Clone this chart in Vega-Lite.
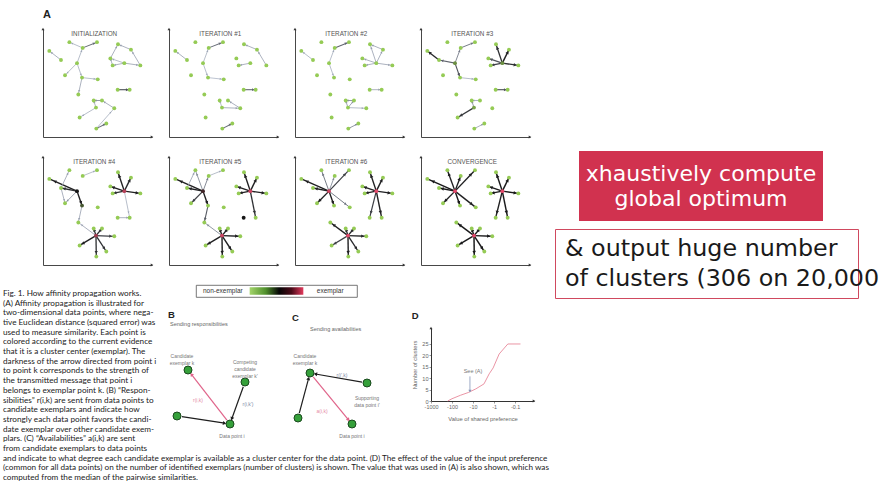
{
  "$schema": "https://vega.github.io/schema/vega-lite/v6.json",
  "background": "#ffffff",
  "padding": {"left": 0, "top": 8, "right": 0, "bottom": 0},
  "config": {"view": {"stroke": null}, "font": "Liberation Sans"},
  "datasets": {
    "pts": [
      {"id": 1, "x": 5.8, "y": 79.7, "P0": 0, "P1": 0, "P2": 0, "P3": 0, "P4": 0, "P5": 0, "P6": 0, "P7": 0},
      {"id": 2, "x": 16.5, "y": 71.3, "P0": 0, "P1": 0, "P2": 0, "P3": 0, "P4": 0, "P5": 0, "P6": 0, "P7": 0},
      {"id": 3, "x": 24.2, "y": 87.8, "P0": 0, "P1": 0, "P2": 0, "P3": 0, "P4": 0, "P5": 0, "P6": 0, "P7": 0},
      {"id": 4, "x": 36.4, "y": 82.5, "P0": 0, "P1": 0, "P2": 0, "P3": 0, "P4": 0, "P5": 0, "P6": 0, "P7": 0},
      {"id": 5, "x": 49.5, "y": 87.8, "P0": 0, "P1": 0, "P2": 0, "P3": 0, "P4": 0, "P5": 0, "P6": 0, "P7": 0},
      {"id": 6, "x": 31.2, "y": 68.4, "P0": 0, "P1": 0, "P2": 0, "P3": 0.15, "P4": 0.5, "P5": 0.62, "P6": 0.95, "P7": 1},
      {"id": 7, "x": 20.2, "y": 57.2, "P0": 0, "P1": 0, "P2": 0, "P3": 0, "P4": 0, "P5": 0, "P6": 0, "P7": 0},
      {"id": 8, "x": 35.8, "y": 55.0, "P0": 0, "P1": 0, "P2": 0, "P3": 0, "P4": 0.3, "P5": 0, "P6": 0, "P7": 0},
      {"id": 9, "x": 50.2, "y": 53.4, "P0": 0, "P1": 0, "P2": 0, "P3": 0, "P4": 0, "P5": 0, "P6": 0, "P7": 0},
      {"id": 10, "x": 32.4, "y": 39.4, "P0": 0, "P1": 0, "P2": 0, "P3": 0, "P4": 0, "P5": 0, "P6": 0, "P7": 0},
      {"id": 11, "x": 46.5, "y": 33.8, "P0": 0, "P1": 0, "P2": 0, "P3": 0, "P4": 0, "P5": 0, "P6": 0, "P7": 0},
      {"id": 12, "x": 54.1, "y": 33.8, "P0": 0, "P1": 0, "P2": 0, "P3": 0, "P4": 0, "P5": 0, "P6": 0, "P7": 0},
      {"id": 13, "x": 48.6, "y": 27.2, "P0": 0, "P1": 0, "P2": 0, "P3": 0.1, "P4": 0.85, "P5": 0.95, "P6": 1, "P7": 1},
      {"id": 14, "x": 65.4, "y": 26.6, "P0": 0, "P1": 0, "P2": 0, "P3": 0, "P4": 0, "P5": 0, "P6": 0, "P7": 0},
      {"id": 15, "x": 33.6, "y": 18.1, "P0": 0, "P1": 0, "P2": 0, "P3": 0, "P4": 0, "P5": 0, "P6": 0, "P7": 0},
      {"id": 16, "x": 48.9, "y": 7.8, "P0": 0, "P1": 0, "P2": 0, "P3": 0, "P4": 0, "P5": 0, "P6": 0, "P7": 0},
      {"id": 17, "x": 68.8, "y": 85.9, "P0": 0, "P1": 0, "P2": 0, "P3": 0, "P4": 0, "P5": 0, "P6": 0, "P7": 0},
      {"id": 18, "x": 80.7, "y": 80.9, "P0": 0, "P1": 0, "P2": 0, "P3": 0, "P4": 0, "P5": 0, "P6": 0, "P7": 0},
      {"id": 19, "x": 61.8, "y": 72.8, "P0": 0, "P1": 0, "P2": 0, "P3": 0, "P4": 0, "P5": 0, "P6": 0, "P7": 0},
      {"id": 20, "x": 63.9, "y": 66.3, "P0": 0, "P1": 0, "P2": 0, "P3": 0, "P4": 0, "P5": 0, "P6": 0, "P7": 0},
      {"id": 21, "x": 74.6, "y": 68.4, "P0": 0, "P1": 0, "P2": 0, "P3": 0.15, "P4": 0.9, "P5": 0.95, "P6": 1, "P7": 1},
      {"id": 22, "x": 89.3, "y": 66.3, "P0": 0, "P1": 0, "P2": 0, "P3": 0, "P4": 0, "P5": 0, "P6": 0, "P7": 0},
      {"id": 23, "x": 68.5, "y": 43.8, "P0": 0, "P1": 0, "P2": 0, "P3": 0, "P4": 0, "P5": 0.5, "P6": 0, "P7": 0},
      {"id": 24, "x": 79.5, "y": 43.8, "P0": 0, "P1": 0, "P2": 0, "P3": 0, "P4": 0, "P5": 0, "P6": 0, "P7": 0},
      {"id": 25, "x": 58.1, "y": 12.5, "P0": 0, "P1": 0, "P2": 0, "P3": 0, "P4": 0, "P5": 0, "P6": 0, "P7": 0}
    ],
    "edges": [
      {"i": 1, "k": 2, "P0": 0.2, "P1": 0.2, "P2": 0.15, "P3": 0.85},
      {"i": 3, "k": 4, "P0": 0.15},
      {"i": 5, "k": 4, "P0": 0.45, "P1": 0.45, "P2": 0.5, "P3": 0.4, "P4": 0.15, "P5": 0.15},
      {"i": 4, "k": 6, "P0": 0.15, "P1": 0.15, "P2": 0.15, "P3": 0.35, "P5": 0.35, "P6": 0.3, "P7": 0.9},
      {"i": 7, "k": 6, "P0": 0.15, "P4": 0.25, "P5": 0.7, "P6": 0.9, "P7": 0.9},
      {"i": 8, "k": 6, "P0": 0.15, "P1": 0.15, "P2": 0.15, "P3": 0.6, "P4": 0.9, "P5": 0.9, "P6": 0.9, "P7": 0.95},
      {"i": 9, "k": 8, "P0": 0.15, "P1": 0.12, "P3": 0.15},
      {"i": 10, "k": 8, "P0": 0.2, "P4": 0.2, "P5": 0.55},
      {"i": 11, "k": 12, "P0": 0.3, "P2": 0.3, "P3": 0.2},
      {"i": 11, "k": 13, "P0": 0.2, "P1": 0.15, "P2": 0.25, "P3": 0.3, "P4": 0.8, "P5": 0.9, "P6": 0.85, "P7": 0.95},
      {"i": 12, "k": 14, "P0": 0.2, "P1": 0.2},
      {"i": 14, "k": 16, "P0": 0.15},
      {"i": 25, "k": 16, "P0": 0.45, "P1": 0.45, "P2": 0.3, "P3": 0.2},
      {"i": 15, "k": 13, "P0": 0.15, "P3": 0.75, "P4": 0.9, "P5": 0.9, "P6": 0.7, "P7": 0.95},
      {"i": 17, "k": 18, "P0": 0.2, "P1": 0.2, "P2": 0.2},
      {"i": 18, "k": 22, "P0": 0.2, "P1": 0.2},
      {"i": 17, "k": 19, "P0": 0.2},
      {"i": 19, "k": 20, "P0": 0.2},
      {"i": 20, "k": 21, "P0": 0.2, "P1": 0.2, "P2": 0.2, "P3": 0.7, "P4": 0.8, "P5": 0.9, "P6": 0.9, "P7": 0.95},
      {"i": 22, "k": 21, "P0": 0.2, "P2": 0.2, "P3": 0.8, "P4": 0.9, "P5": 0.9, "P6": 0.9, "P7": 0.95},
      {"i": 19, "k": 21, "P0": 0.15, "P2": 0.2, "P3": 0.6, "P4": 0.9, "P5": 0.9, "P6": 0.9, "P7": 0.95},
      {"i": 17, "k": 21, "P2": 0.2, "P3": 0.8, "P4": 0.9, "P5": 0.9, "P6": 0.9, "P7": 0.95},
      {"i": 18, "k": 21, "P2": 0.2, "P3": 0.9, "P4": 0.85, "P5": 0.9, "P6": 0.9, "P7": 0.95},
      {"i": 24, "k": 23, "P0": 0.6, "P1": 0.5, "P2": 0.2, "P3": 0.6, "P4": 0.2},
      {"i": 12, "k": 13, "P2": 0.25, "P4": 0.8, "P5": 0.9, "P6": 0.85, "P7": 0.95},
      {"i": 14, "k": 13, "P1": 0.2, "P2": 0.15, "P4": 0.7, "P5": 0.9, "P6": 0.85, "P7": 0.95},
      {"i": 1, "k": 6, "P4": 0.9, "P5": 0.9, "P6": 0.9, "P7": 0.95},
      {"i": 2, "k": 6, "P3": 0.5, "P4": 0.8, "P5": 0.9, "P6": 0.9, "P7": 0.95},
      {"i": 3, "k": 6, "P5": 0.3, "P6": 0.4, "P7": 0.9},
      {"i": 3, "k": 2, "P4": 0.2, "P5": 0.2},
      {"i": 7, "k": 2, "P4": 0.2},
      {"i": 5, "k": 6, "P6": 0.7, "P7": 0.9},
      {"i": 9, "k": 6, "P6": 0.4, "P7": 0.9},
      {"i": 23, "k": 21, "P6": 0.7, "P7": 0.9},
      {"i": 24, "k": 21, "P4": 0.15, "P5": 0.8, "P6": 0.9, "P7": 0.95},
      {"i": 10, "k": 13, "P4": 0.2, "P5": 0.3, "P6": 0.9, "P7": 0.95},
      {"i": 16, "k": 13, "P4": 0.8, "P5": 0.9, "P6": 0.9, "P7": 0.95},
      {"i": 25, "k": 13, "P4": 0.8, "P5": 0.9, "P6": 0.85, "P7": 0.95}
    ],
    "titles": [
      {"P0": "INITIALIZATION", "P1": "ITERATION #1", "P2": "ITERATION #2", "P3": "ITERATION #3", "P4": "ITERATION #4", "P5": "ITERATION #5", "P6": "ITERATION #6", "P7": "CONVERGENCE"}
    ],
    "caption": [
      {"n": 1, "t": "Fig. 1. How affinity propagation works."},
      {"n": 2, "t": "(A) Affinity propagation is illustrated for"},
      {"n": 3, "t": "two-dimensional data points, where nega-"},
      {"n": 4, "t": "tive Euclidean distance (squared error) was"},
      {"n": 5, "t": "used to measure similarity. Each point is"},
      {"n": 6, "t": "colored according to the current evidence"},
      {"n": 7, "t": "that it is a cluster center (exemplar). The"},
      {"n": 8, "t": "darkness of the arrow directed from point i"},
      {"n": 9, "t": "to point k corresponds to the strength of"},
      {"n": 10, "t": "the transmitted message that point i"},
      {"n": 11, "t": "belongs to exemplar point k. (B) “Respon-"},
      {"n": 12, "t": "sibilities” r(i,k) are sent from data points to"},
      {"n": 13, "t": "candidate exemplars and indicate how"},
      {"n": 14, "t": "strongly each data point favors the candi-"},
      {"n": 15, "t": "date exemplar over other candidate exem-"},
      {"n": 16, "t": "plars. (C) “Availabilities” a(i,k) are sent"},
      {"n": 17, "t": "from candidate exemplars to data points"},
      {"n": 18, "t": "and indicate to what degree each candidate exemplar is available as a cluster center for the data point. (D) The effect of the value of the input preference"},
      {"n": 19, "t": "(common for all data points) on the number of identified exemplars (number of clusters) is shown. The value that was used in (A) is also shown, which was"},
      {"n": 20, "t": "computed from the median of the pairwise similarities."}
    ],
    "bc": [
      {"panel": "B", "kind": "node", "x": 2.3, "y": 7.1},
      {"panel": "B", "kind": "node", "x": 8.0, "y": 5.9},
      {"panel": "B", "kind": "node", "x": 1.2, "y": 2.5},
      {"panel": "B", "kind": "node", "x": 6.5, "y": 1.7},
      {"panel": "C", "kind": "node", "x": 1.7, "y": 6.8},
      {"panel": "C", "kind": "node", "x": 7.4, "y": 5.8},
      {"panel": "C", "kind": "node", "x": 0.5, "y": 2.3},
      {"panel": "C", "kind": "node", "x": 5.9, "y": 1.7},
      {"panel": "B", "kind": "arrow", "role": "selected", "x": 6.19, "y": 2.09, "x2": 2.64, "y2": 6.67},
      {"panel": "B", "kind": "arrow", "role": "other", "x": 7.83, "y": 5.43, "x2": 6.68, "y2": 2.22},
      {"panel": "B", "kind": "arrow", "role": "other", "x": 1.69, "y": 2.43, "x2": 5.96, "y2": 1.78},
      {"panel": "C", "kind": "arrow", "role": "other", "x": 6.91, "y": 5.89, "x2": 2.24, "y2": 6.70},
      {"panel": "C", "kind": "arrow", "role": "other", "x": 0.63, "y": 2.78, "x2": 1.56, "y2": 6.27},
      {"panel": "C", "kind": "arrow", "role": "selected", "x": 2.02, "y": 6.41, "x2": 5.55, "y2": 2.12},
      {"panel": "B", "kind": "label", "x": 1.7, "y": 8.55, "t": "Candidate\nexemplar k"},
      {"panel": "B", "kind": "label", "x": 8.0, "y": 7.9, "t": "Competing\ncandidate\nexemplar k'"},
      {"panel": "B", "kind": "label", "x": 6.7, "y": 0.5, "t": "Data point i"},
      {"panel": "C", "kind": "label", "x": 1.2, "y": 8.5, "t": "Candidate\nexemplar k"},
      {"panel": "C", "kind": "label", "x": 7.4, "y": 4.3, "t": "Supporting\ndata point i'"},
      {"panel": "C", "kind": "label", "x": 5.9, "y": 0.5, "t": "Data point i"},
      {"panel": "B", "kind": "msg", "role": "selected", "x": 3.3, "y": 4.1, "t": "r(i,k)"},
      {"panel": "B", "kind": "msg", "role": "other", "x": 8.3, "y": 3.7, "t": "r(i,k')"},
      {"panel": "C", "kind": "msg", "role": "other", "x": 4.9, "y": 6.6, "t": "r(i',k)"},
      {"panel": "C", "kind": "msg", "role": "selected", "x": 2.9, "y": 3.0, "t": "a(i,k)"},
      {"panel": "B", "kind": "letter", "x": 0.3, "y": 12.6, "t": "B"},
      {"panel": "C", "kind": "letter", "x": -0.1, "y": 12.3, "t": "C"},
      {"panel": "B", "kind": "subtitle", "x": 0.5, "y": 11.7, "t": "Sending responsibilities"},
      {"panel": "C", "kind": "subtitle", "x": 1.7, "y": 11.2, "t": "Sending availabilities"}
    ],
    "curve": [
      {"pref": 160, "clusters": 0},
      {"pref": 100, "clusters": 1},
      {"pref": 40, "clusters": 2.5},
      {"pref": 17, "clusters": 3.7},
      {"pref": 7.4, "clusters": 5.3},
      {"pref": 3, "clusters": 7.5},
      {"pref": 1.7, "clusters": 11.9},
      {"pref": 1.1, "clusters": 14.5},
      {"pref": 0.57, "clusters": 20.6},
      {"pref": 0.22, "clusters": 25},
      {"pref": 0.055, "clusters": 25}
    ]
  },
  "hconcat": [
    {
      "vconcat": [
        {
          "hconcat": [
            {"width": 26, "height": 10, "data": {"values": []}, "mark": "point"},
            {
              "repeat": ["P0", "P1", "P2", "P3", "P4", "P5", "P6", "P7"],
              "columns": 4,
              "spacing": {"row": 20, "column": 17},
              "bounds": "flush",
              "title": {"text": "A", "anchor": "start", "frame": "group", "fontSize": 11, "fontWeight": "bold", "offset": 8, "color": "#222222"},
              "spec": {
                "width": 109,
                "height": 108,
                "layer": [
                  {
                    "data": {"name": "edges"},
                    "transform": [
                      {"lookup": "i", "from": {"data": {"name": "pts"}, "key": "id", "fields": ["x", "y"]}},
                      {"lookup": "k", "from": {"data": {"name": "pts"}, "key": "id", "fields": ["x", "y"]}, "as": ["xk", "yk"]}
                    ],
                    "mark": {"type": "rule"},
                    "encoding": {
                      "x": {"field": "x", "type": "quantitative", "scale": {"domain": [0, 100], "nice": false, "zero": false}, "axis": {"title": null, "labels": false, "ticks": false, "grid": false, "domainColor": "#333333", "domainWidth": 0.9}},
                      "y": {"field": "y", "type": "quantitative", "scale": {"domain": [0, 100], "nice": false, "zero": false}, "axis": {"title": null, "labels": false, "ticks": false, "grid": false, "domainColor": "#333333", "domainWidth": 0.9}},
                      "x2": {"field": "xk"},
                      "y2": {"field": "yk"},
                      "stroke": {"field": {"repeat": "repeat"}, "type": "quantitative", "scale": {"domain": [0, 1], "range": ["#b9c4d9", "#111111"]}, "legend": null},
                      "strokeWidth": {"field": {"repeat": "repeat"}, "type": "quantitative", "scale": {"domain": [0, 1], "range": [0.6, 1.5]}, "legend": null}
                    }
                  },
                  {
                    "data": {"name": "edges"},
                    "transform": [
                      {"lookup": "i", "from": {"data": {"name": "pts"}, "key": "id", "fields": ["x", "y"]}},
                      {"lookup": "k", "from": {"data": {"name": "pts"}, "key": "id", "fields": ["x", "y"]}, "as": ["xk", "yk"]},
                      {"calculate": "datum.xk + 0.8 * (datum.x - datum.xk)", "as": "hx"},
                      {"calculate": "datum.yk + 0.8 * (datum.y - datum.yk)", "as": "hy"},
                      {"calculate": "atan2(datum.x - datum.xk, datum.y - datum.yk) * 180 / PI", "as": "heading"}
                    ],
                    "mark": {"type": "point", "shape": "triangle-up", "filled": true, "opacity": 1},
                    "encoding": {
                      "x": {"field": "hx", "type": "quantitative"},
                      "y": {"field": "hy", "type": "quantitative"},
                      "angle": {"field": "heading", "type": "quantitative", "scale": null},
                      "color": {"field": {"repeat": "repeat"}, "type": "quantitative", "scale": {"domain": [0, 1], "range": ["#b9c4d9", "#111111"]}, "legend": null},
                      "size": {"field": {"repeat": "repeat"}, "type": "quantitative", "scale": {"domain": [0, 1], "range": [3, 13]}, "legend": null}
                    }
                  },
                  {
                    "data": {"name": "pts"},
                    "mark": {"type": "circle", "size": 15, "opacity": 1},
                    "encoding": {
                      "x": {"field": "x", "type": "quantitative"},
                      "y": {"field": "y", "type": "quantitative"},
                      "fill": {"field": {"repeat": "repeat"}, "type": "quantitative", "scale": {"domain": [0, 0.5, 1], "range": ["#95cb55", "#161616", "#e2486a"]}, "legend": null}
                    }
                  },
                  {
                    "data": {"values": [{}]},
                    "mark": {"type": "point", "shape": "triangle-up", "filled": true, "size": 9, "color": "#333333", "opacity": 1},
                    "encoding": {"x": {"datum": 0, "type": "quantitative"}, "y": {"datum": 100, "type": "quantitative"}}
                  },
                  {
                    "data": {"values": [{}]},
                    "mark": {"type": "point", "shape": "triangle-right", "filled": true, "size": 9, "color": "#333333", "opacity": 1},
                    "encoding": {"x": {"datum": 100, "type": "quantitative"}, "y": {"datum": 0, "type": "quantitative"}}
                  },
                  {
                    "data": {"name": "titles"},
                    "mark": {"type": "text", "fontSize": 6.3, "color": "#555555"},
                    "encoding": {
                      "x": {"datum": 47, "type": "quantitative"},
                      "y": {"datum": 95, "type": "quantitative"},
                      "text": {"field": {"repeat": "repeat"}}
                    }
                  }
                ]
              }
            }
          ],
          "spacing": 17,
          "bounds": "flush"
        },
        {
          "hconcat": [
            {
              "width": 165,
              "height": 202,
              "data": {"name": "caption"},
              "mark": {"type": "text", "align": "left", "baseline": "middle", "font": "Lato", "fontSize": 8.2, "color": "#222222", "dx": 3},
              "encoding": {
                "x": {"datum": 0, "type": "quantitative", "scale": {"domain": [0, 1]}, "axis": null},
                "y": {"field": "n", "type": "ordinal", "scale": {"type": "point", "padding": 0.93}, "axis": null},
                "text": {"field": "t"},
                "fontWeight": {"condition": {"test": "datum.n === 1", "value": "bold"}, "value": "normal"}
              }
            },
            {
              "vconcat": [
                {
                  "hconcat": [
                    {"width": 31, "height": 12, "data": {"values": []}, "mark": "point"},
                    {
                      "width": 161,
                      "height": 12,
                      "view": {"stroke": "#555555", "strokeWidth": 0.8},
                      "data": {"values": [
                        {"part": "non-exemplar", "kind": "label", "row": "r"},
                        {"part": "ramp", "kind": "ramp", "row": "r"},
                        {"part": "exemplar", "kind": "label", "row": "r"}
                      ]},
                      "encoding": {"x": {"field": "part", "type": "nominal", "scale": {"domain": ["non-exemplar", "ramp", "exemplar"], "paddingInner": 0, "paddingOuter": 0}, "axis": null}},
                      "layer": [
                        {
                          "transform": [{"filter": "datum.kind === 'ramp'"}],
                          "mark": {"type": "rect", "fill": {"gradient": "linear", "stops": [{"offset": 0, "color": "#a3d46a"}, {"offset": 0.3, "color": "#4f8f2c"}, {"offset": 0.55, "color": "#050505"}, {"offset": 0.78, "color": "#4a0a18"}, {"offset": 1, "color": "#e23a5c"}]}},
                          "encoding": {"y": {"field": "row", "type": "nominal", "scale": {"paddingInner": 0, "paddingOuter": 0.3}, "axis": null}}
                        },
                        {
                          "transform": [{"filter": "datum.kind === 'label'"}],
                          "mark": {"type": "text", "fontSize": 6.5, "color": "#333333", "baseline": "middle"},
                          "encoding": {"text": {"field": "part"}}
                        }
                      ]
                    }
                  ],
                  "spacing": 0,
                  "bounds": "flush"
                },
                {
                  "hconcat": [
                    {
                      "data": {"name": "bc"},
                      "facet": {"column": {"field": "panel", "type": "nominal", "header": {"labels": false, "title": null}}},
                      "spacing": 15,
                      "bounds": "flush",
                      "spec": {
                        "width": 113,
                        "height": 113,
                        "encoding": {
                          "x": {"field": "x", "type": "quantitative", "scale": {"domain": [0, 11.3], "nice": false, "zero": false}, "axis": null},
                          "y": {"field": "y", "type": "quantitative", "scale": {"domain": [0, 11.3], "nice": false, "zero": false}, "axis": null}
                        },
                        "layer": [
                          {
                            "transform": [{"filter": "datum.kind === 'arrow'"}],
                            "mark": {"type": "rule", "strokeWidth": 1.2},
                            "encoding": {
                              "x2": {"field": "x2"},
                              "y2": {"field": "y2"},
                              "color": {"condition": {"test": "datum.role === 'selected'", "value": "#e0648a"}, "value": "#1e1e1e"}
                            }
                          },
                          {
                            "transform": [
                              {"filter": "datum.kind === 'arrow'"},
                              {"calculate": "atan2(datum.x2 - datum.x, datum.y2 - datum.y) * 180 / PI", "as": "heading"}
                            ],
                            "mark": {"type": "point", "shape": "triangle-up", "filled": true, "size": 16, "opacity": 1},
                            "encoding": {
                              "x": {"field": "x2", "type": "quantitative"},
                              "y": {"field": "y2", "type": "quantitative"},
                              "angle": {"field": "heading", "type": "quantitative", "scale": null},
                              "color": {"condition": {"test": "datum.role === 'selected'", "value": "#e0648a"}, "value": "#1e1e1e"}
                            }
                          },
                          {
                            "transform": [{"filter": "datum.kind === 'node'"}],
                            "mark": {"type": "circle", "size": 64, "color": "#35a03a", "stroke": "#1b4a1f", "strokeWidth": 1, "opacity": 1}
                          },
                          {
                            "transform": [{"filter": "datum.kind === 'label'"}],
                            "mark": {"type": "text", "fontSize": 5, "color": "#777777", "lineBreak": "\n", "baseline": "middle"},
                            "encoding": {"text": {"field": "t"}}
                          },
                          {
                            "transform": [{"filter": "datum.kind === 'msg'"}],
                            "mark": {"type": "text", "fontSize": 5, "baseline": "middle"},
                            "encoding": {
                              "text": {"field": "t"},
                              "color": {"condition": {"test": "datum.role === 'selected'", "value": "#e58aa5"}, "value": "#7d8aa6"}
                            }
                          },
                          {
                            "transform": [{"filter": "datum.kind === 'letter'"}],
                            "mark": {"type": "text", "fontSize": 9.5, "fontWeight": "bold", "align": "left", "baseline": "middle", "color": "#222222"},
                            "encoding": {"text": {"field": "t"}}
                          },
                          {
                            "transform": [{"filter": "datum.kind === 'subtitle'"}],
                            "mark": {"type": "text", "fontSize": 5.5, "align": "left", "baseline": "middle", "color": "#666666"},
                            "encoding": {"text": {"field": "t"}}
                          }
                        ]
                      }
                    },
                    {
                      "width": 103,
                      "height": 73,
                      "title": {"text": "D", "anchor": "start", "frame": "bounds", "fontSize": 9.5, "fontWeight": "bold", "offset": 6, "color": "#222222"},
                      "encoding": {
                        "x": {"field": "pref", "type": "quantitative", "scale": {"type": "log", "domain": [0.0125, 1000], "reverse": true, "nice": false},
                          "axis": {"values": [1000, 100, 10, 1, 0.1], "format": "~g", "labelExpr": "'-' + datum.label", "title": "Value of shared preference", "labelFontSize": 5.4, "labelColor": "#666666", "labelPadding": 1, "labelFlush": false, "labelOverlap": false, "tickSize": 2, "tickColor": "#999999", "domainColor": "#333333", "titleFontSize": 5.8, "titleColor": "#666666", "titleFontWeight": "normal", "titlePadding": 6, "grid": false}},
                        "y": {"field": "clusters", "type": "quantitative", "scale": {"domain": [0, 32], "nice": false},
                          "axis": {"values": [0, 5, 10, 15, 20, 25], "format": "d", "title": "Number of clusters", "labelFontSize": 5.6, "labelColor": "#666666", "labelPadding": 1, "labelFlush": false, "labelOverlap": false, "labelBound": false, "tickSize": 2, "tickColor": "#999999", "domainColor": "#333333", "titleFontSize": 5.8, "titleColor": "#666666", "titleFontWeight": "normal", "titlePadding": 4, "grid": false}}
                      },
                      "layer": [
                        {
                          "data": {"name": "curve"},
                          "mark": {"type": "line", "color": "#e8899b", "strokeWidth": 0.9}
                        },
                        {
                          "data": {"values": [{"pref": 14, "clusters": 10.8, "end": 4.6}]},
                          "mark": {"type": "rule", "color": "#8596b8", "strokeWidth": 0.8},
                          "encoding": {"y2": {"field": "end"}}
                        },
                        {
                          "data": {"values": [{"pref": 14, "clusters": 4.3}]},
                          "mark": {"type": "point", "shape": "triangle-down", "filled": true, "size": 10, "color": "#8596b8", "opacity": 1}
                        },
                        {
                          "data": {"values": [{"pref": 10, "clusters": 13, "note": "See (A)"}]},
                          "mark": {"type": "text", "fontSize": 5.5, "color": "#777777"},
                          "encoding": {"text": {"field": "note"}}
                        },
                        {
                          "data": {"values": [{"pref": 0.0125, "clusters": 0}]},
                          "mark": {"type": "point", "shape": "triangle-right", "filled": true, "size": 9, "color": "#333333", "opacity": 1}
                        },
                        {
                          "data": {"values": [{"pref": 1000, "clusters": 32}]},
                          "mark": {"type": "point", "shape": "triangle-up", "filled": true, "size": 9, "color": "#333333", "opacity": 1}
                        }
                      ]
                    }
                  ],
                  "spacing": 266,
                  "bounds": "flush"
                }
              ],
              "spacing": 43,
              "bounds": "flush"
            }
          ],
          "spacing": 0,
          "bounds": "flush"
        }
      ],
      "spacing": 256,
      "bounds": "flush"
    },
    {
      "vconcat": [
        {"width": 10, "height": 114, "data": {"values": []}, "mark": "point"},
        {
          "hconcat": [
            {"width": 4, "height": 10, "data": {"values": []}, "mark": "point"},
            {
              "width": 244,
              "height": 70,
              "view": {"fill": "#d1324f", "stroke": null},
              "data": {"values": [{"n": 1, "t": "xhaustively compute"}, {"n": 2, "t": "global optimum"}]},
              "mark": {"type": "text", "font": "DejaVu Sans", "fontSize": 22, "color": "#ffffff", "baseline": "middle"},
              "encoding": {
                "y": {"field": "n", "type": "ordinal", "scale": {"type": "point", "padding": 0.9}, "axis": null},
                "text": {"field": "t"}
              }
            }
          ],
          "spacing": 20,
          "bounds": "flush"
        },
        {"width": 10, "height": 62, "data": {"values": []}, "mark": "point"},
        {
          "width": 303,
          "height": 69,
          "view": {"fill": "#ffffff", "stroke": "#d0495e", "strokeWidth": 1},
          "data": {"values": [{"n": 1, "t": "& output huge number"}, {"n": 2, "t": "of clusters (306 on 20,000"}]},
          "mark": {"type": "text", "font": "DejaVu Sans", "fontSize": 23.8, "color": "#1a1a1a", "align": "left", "baseline": "middle", "dx": 10},
          "encoding": {
            "x": {"datum": 0, "type": "quantitative", "scale": {"domain": [0, 1]}, "axis": null},
            "y": {"field": "n", "type": "ordinal", "scale": {"type": "point", "padding": 0.65}, "axis": null},
            "text": {"field": "t"}
          }
        }
      ],
      "spacing": 8,
      "bounds": "flush"
    }
  ],
  "spacing": 555,
  "bounds": "flush"
}
